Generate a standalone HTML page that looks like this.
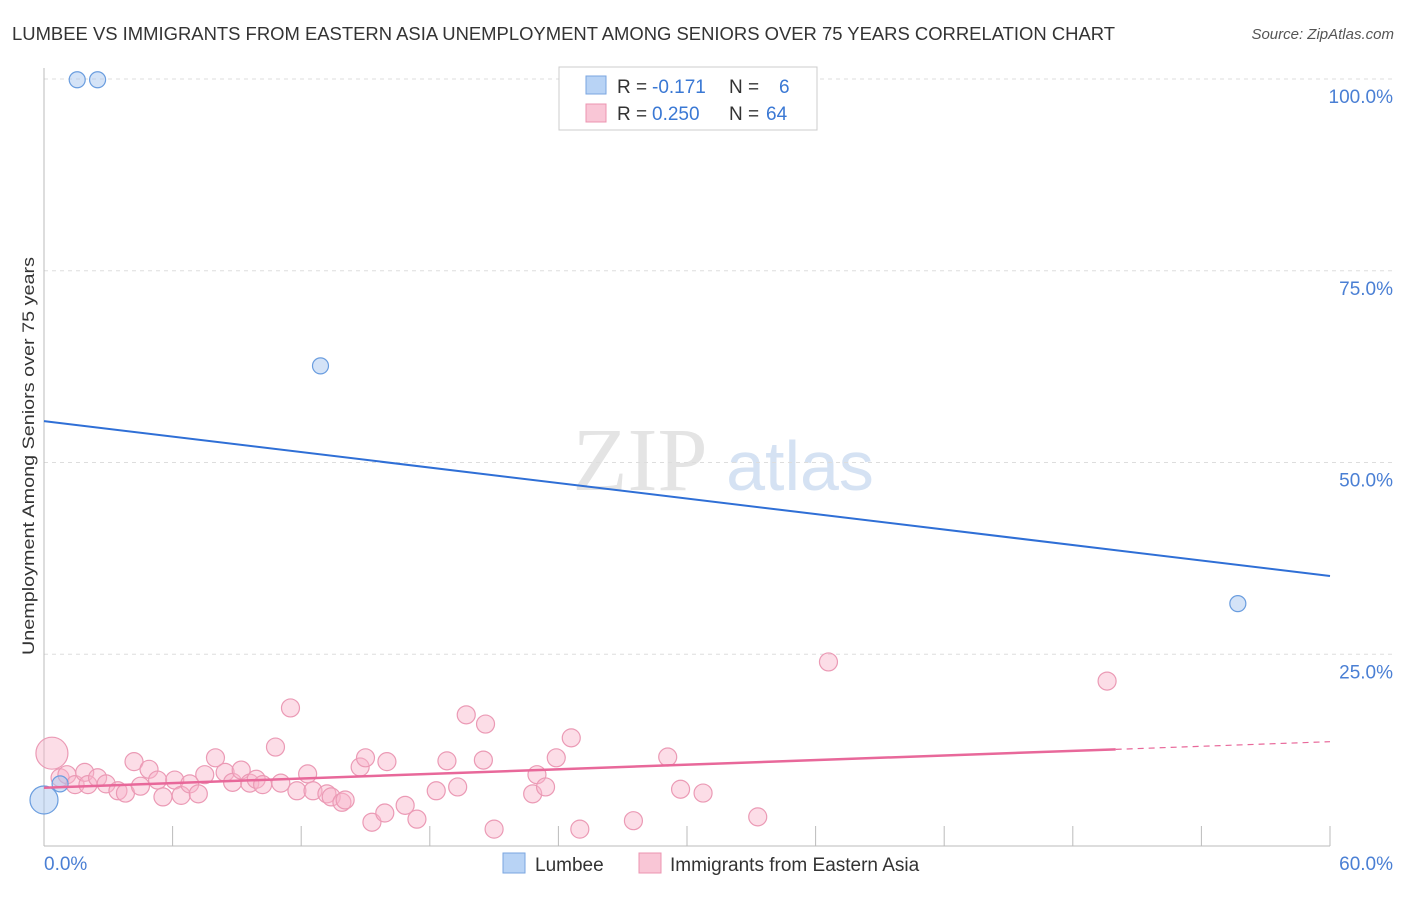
<!DOCTYPE html>
<html><head><meta charset="utf-8"><style>
body{margin:0;background:#fff;font-family:"Liberation Sans",sans-serif}
</style></head><body>
<svg id="c" width="1406" height="892" xmlns="http://www.w3.org/2000/svg" font-family="Liberation Sans, sans-serif">
<text x="12" y="40" font-size="18" fill="#333" textLength="1103" lengthAdjust="spacingAndGlyphs">LUMBEE VS IMMIGRANTS FROM EASTERN ASIA UNEMPLOYMENT AMONG SENIORS OVER 75 YEARS CORRELATION CHART</text>
<text x="1394" y="39" font-size="15" fill="#555" font-style="italic" text-anchor="end">Source: ZipAtlas.com</text>
<text x="640" y="490" font-size="90" fill="#e4e4e4" font-family="Liberation Serif, serif" text-anchor="middle">ZIP</text>
<text x="800" y="490" font-size="70" fill="#d5e2f3" text-anchor="middle">atlas</text>
<g id="grid"></g><g id="axes"></g><g id="marks"></g>
<text transform="translate(34,456) rotate(-90)" font-size="17" fill="#333" text-anchor="middle" textLength="398" lengthAdjust="spacingAndGlyphs">Unemployment Among Seniors over 75 years</text>
<text x="44" y="870" font-size="19" fill="#4a7fd4">0.0%</text>
<text x="1393" y="870" font-size="19" fill="#4a7fd4" text-anchor="end">60.0%</text>
<g>
<rect x="559" y="67" width="258" height="63" fill="#fff" stroke="#ccc"/>
<rect x="586" y="76" width="20" height="18" fill="#b8d3f5" stroke="#7aa6e0"/>
<rect x="586" y="104" width="20" height="18" fill="#f9c6d6" stroke="#ec94b0"/>
<text y="93" font-size="19" fill="#333"><tspan x="617">R =</tspan><tspan x="652" fill="#3a78d4">-0.171</tspan><tspan x="729">N =</tspan><tspan x="779" fill="#3a78d4">6</tspan></text>
<text y="120" font-size="19" fill="#333"><tspan x="617">R =</tspan><tspan x="652" fill="#3a78d4">0.250</tspan><tspan x="729">N =</tspan><tspan x="766" fill="#3a78d4">64</tspan></text>
</g>
<g>
<rect x="503" y="853" width="22" height="20" fill="#b8d3f5" stroke="#7aa6e0"/>
<text x="535" y="871" font-size="19" fill="#333">Lumbee</text>
<rect x="639" y="853" width="22" height="20" fill="#f9c6d6" stroke="#ec94b0"/>
<text x="670" y="871" font-size="19" fill="#333">Immigrants from Eastern Asia</text>
</g>
</svg>
<script>
const yTicks=[100,75,50,25];
const yTickLabels=["100.0%","75.0%","50.0%","25.0%"];
const xTicks=[0,6,12,18,24,30,36,42,48,54,60];
const blueX=[0,0.75,1.55,2.5,12.9,55.7];
const blueY=[6.0,8.1,99.9,99.9,62.6,31.6];
const blueR=[14,8,8,8,8,8];
const pinkX=[0.37,0.75,1.07,1.45,1.9,2.05,2.5,2.9,3.45,3.8,4.2,4.5,4.9,5.3,5.55,6.1,6.4,6.8,7.2,7.5,8.0,8.45,8.8,9.2,9.6,9.9,10.2,10.8,11.05,11.5,11.8,12.3,12.55,13.2,13.4,13.9,14.05,14.75,15.0,15.3,15.9,16.0,16.85,17.4,18.3,18.8,19.3,19.7,20.6,20.5,21.0,22.8,23.0,23.4,23.9,24.6,25.0,27.5,29.1,29.7,30.75,33.3,36.6,49.6];
const pinkY=[12.1,8.9,9.3,8.0,9.6,8.0,8.9,8.1,7.2,6.9,11.0,7.8,10.0,8.6,6.4,8.6,6.6,8.1,6.8,9.3,11.5,9.6,8.3,9.9,8.2,8.7,8.0,12.9,8.2,18.0,7.2,9.4,7.2,6.8,6.4,5.7,6.0,10.3,11.5,3.1,4.3,11.0,5.3,3.5,7.2,11.1,7.7,17.1,15.9,11.2,2.2,6.8,9.3,7.7,11.5,14.1,2.2,3.3,11.6,7.4,6.9,3.8,24.0,21.5];
const blueTrend=[55.4,35.2];
const pinkTrend=[7.6,13.6];
const pinkSolidEnd=50;
const X=v=>44+v/60*1286, Y=v=>846-v*7.67;
const NS="http://www.w3.org/2000/svg";
function mk(p,t,a){const e=document.createElementNS(NS,t);for(const k in a)e.setAttribute(k,a[k]);document.getElementById(p).appendChild(e);return e;}
yTicks.forEach((t,i)=>{
 const l=mk('grid','line',{x1:44,x2:1394,y1:Y(t),y2:Y(t),stroke:'#ddd','stroke-dasharray':'4,4'});
 
 
 const tx=mk('grid','text',{x:1393,y:Y(t)+24,'font-size':19,fill:'#4a7fd4','text-anchor':'end'});
 tx.textContent=yTickLabels[i];
 
 
});
const ya=mk('axes','line',{x1:44,x2:44,y1:68,y2:846,stroke:'#bbb'});


const xa=mk('axes','line',{x1:44,x2:1330,y1:846,y2:846,stroke:'#bbb'});


xTicks.forEach(t=>{
 const l=mk('axes','line',{x1:X(t),x2:X(t),y1:826,y2:846,stroke:'#bbb'});
 
 
});
pinkX.forEach((x,i)=>{
 const c=mk('marks','circle',{cx:X(x),cy:Y(pinkY[i]),r:i==0?16:9,fill:'rgba(248,180,202,0.45)',stroke:'#eb9ab5','stroke-width':1.2});
 
 
});
blueX.forEach((x,i)=>{
 const c=mk('marks','circle',{cx:X(x),cy:Y(blueY[i]),r:blueR[i],fill:'rgba(170,200,240,0.5)',stroke:'#6a9ddf','stroke-width':1.2});
 
 
});
const pm=pinkTrend[0]+(pinkTrend[1]-pinkTrend[0])*pinkSolidEnd/60;
const p1=mk('marks','line',{x1:X(0),y1:Y(pinkTrend[0]),x2:X(pinkSolidEnd),y2:Y(pm),stroke:'#e8689a','stroke-width':2.5});


const p2=mk('marks','line',{x1:X(pinkSolidEnd),y1:Y(pm),x2:X(60),y2:Y(pinkTrend[1]),stroke:'#e8689a','stroke-width':1.2,'stroke-dasharray':'6,5'});


const b=mk('marks','line',{x1:X(0),y1:Y(blueTrend[0]),x2:X(60),y2:Y(blueTrend[1]),stroke:'#2f6fd6','stroke-width':2});


</script>
</body></html>
